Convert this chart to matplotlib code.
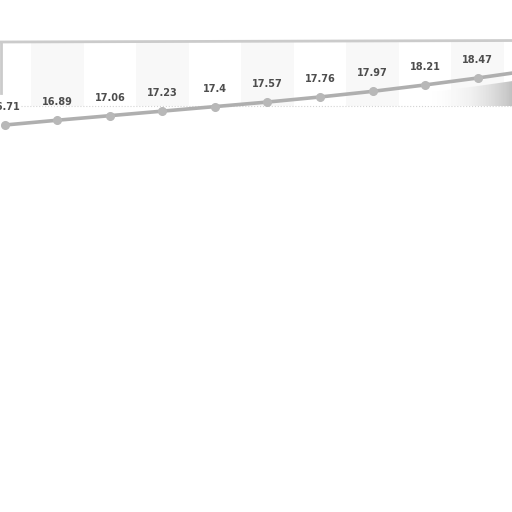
import numpy as np
import matplotlib
matplotlib.use("Agg")
import matplotlib.pyplot as plt
import matplotlib.patches as patches

values = [16.71, 16.89, 17.06, 17.23, 17.4, 17.57, 17.76, 17.97, 18.21, 18.47, 18.75]
labels = ['16.71', '16.89', '17.06', '17.23', '17.4', '17.57', '17.76', '17.97', '18.21', '18.47', '18.75']
x = np.arange(len(values))

line_color = '#afafaf'
band_color = '#f8f8f8'
border_color = '#cbcbcb'
text_color = '#4d4d4d'

fig = plt.figure(figsize=(5.12, 5.12), dpi=100)
ax = fig.add_axes([0, 0, 1, 1])
ax.set_xlim(-0.095, 9.657)
ax.set_ylim(2.216, 21.392)
ax.axis('off')

# plot box (top 42px, bottom 105px)
y_top = 21.392 - 42 / 26.7
y_bot = 21.392 - 106 / 26.7
for i in x:
    if i % 2 == 1:
        ax.add_patch(patches.Rectangle((i - 0.5, y_bot), 1, y_top - y_bot,
                                       facecolor=band_color, edgecolor='none', zorder=0))
ax.plot([-0.09, 10.5], [y_top, y_top + 0.06], color=border_color, lw=2, zorder=1)
ax.plot([-0.085, -0.085], [y_bot + 0.5, y_top], color=border_color, lw=2, zorder=1)
ax.plot([0.3, 10.5], [y_bot, y_bot], color='#d3d3d3', lw=0.8, ls=':', zorder=1)

# shadow on the right, under the line
xs = np.linspace(8.0, 9.7, 60)
top = np.interp(xs, x, values) - 0.3
grad = np.linspace(0, 1, 100).reshape(1, -1) ** 1.8
im = ax.imshow(grad, cmap='Greys', vmin=0, vmax=2.4, aspect='auto',
               extent=(8.0, 9.7, y_bot, 19.4), zorder=1, alpha=0.85)
poly = patches.Polygon(np.column_stack([np.r_[xs, xs[::-1]], np.r_[top, np.full_like(xs, y_bot)]]),
                       closed=True, transform=ax.transData, facecolor='none', edgecolor='none')
ax.add_patch(poly)
im.set_clip_path(poly)

ax.plot(x, values, color=line_color, lw=2.6, marker='o', markersize=5.5,
        markerfacecolor='#b8b8b8', markeredgecolor='#b8b8b8', zorder=3)

for xi, v, lab in zip(x, values, labels):
    ax.annotate(lab, (xi, v), xytext=(0, 13), textcoords='offset points',
                ha='center', va='center', fontsize=7, fontweight='bold',
                color=text_color, zorder=4)

fig.savefig('out.png', dpi=100, facecolor='white')
